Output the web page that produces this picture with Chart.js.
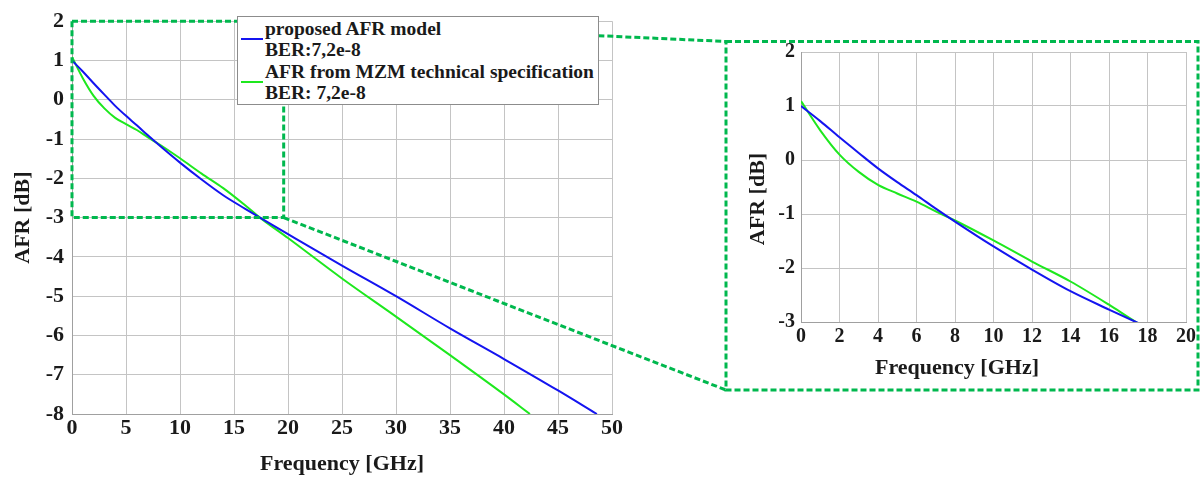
<!DOCTYPE html>
<html>
<head>
<meta charset="utf-8">
<script src="https://cdn.jsdelivr.net/npm/chart.js@4.4.1/dist/chart.umd.min.js"></script>
<style>
    body { margin: 0; background: #fff; }
    #wrap { position: relative; width: 1201px; height: 479px; overflow: hidden; }
    #wrap canvas { position: absolute; left: 0; top: 0; }
    #legend {
        position: absolute; left: 237px; top: 16px; width: 360px; height: 86px;
        border: 1px solid #8c8c8c; background: #fff; box-sizing: content-box;
        font: bold 19.5px 'Liberation Serif', 'Times New Roman', serif; color: #1a1a1a;
        line-height: 21.5px; padding-top: 0.5px; white-space: nowrap;
    }
    .item { position: relative; padding-left: 27px; }
    .swatch { position: absolute; left: 3px; top: 20px; width: 22px; height: 2px; }
</style>
</head>
<body>
<div id="wrap">
    <canvas id="mainChart" width="1201" height="479"></canvas>
    <canvas id="zoomChart" width="1201" height="479"></canvas>
    <div id="legend"></div>
</div>
<script>
// proposed AFR model (blue)
const freqBlue = [0, 1, 2, 3, 4, 5, 6, 7, 8, 10, 12, 14, 16, 17.4, 20, 25, 30, 35, 40, 45, 48.6];
const afrBlue = [1.0, 0.72, 0.42, 0.13, -0.155, -0.41, -0.65, -0.9, -1.14, -1.6, -2.03, -2.43, -2.77, -3.0, -3.42, -4.22, -5.0, -5.82, -6.6, -7.4, -8.0];

// AFR from MZM technical specification (green)
const freqGreen = [0, 1, 2, 3, 4, 5, 6, 7, 7.4, 8, 10, 12, 14, 16, 17.4, 20, 25, 30, 35, 40, 42.4];
const afrGreen = [1.09, 0.55, 0.1, -0.22, -0.46, -0.62, -0.77, -0.95, -1.02, -1.12, -1.49, -1.88, -2.25, -2.68, -3.0, -3.52, -4.55, -5.52, -6.5, -7.5, -8.0];

const legendLines = [
    ['proposed AFR model', 'BER:7,2e-8'],
    ['AFR from MZM technical specification', 'BER: 7,2e-8']
];

const mainXTicks = [0, 5, 10, 15, 20, 25, 30, 35, 40, 45, 50];
const mainYTicks = [-8, -7, -6, -5, -4, -3, -2, -1, 0, 1, 2];
const zoomXTicks = [0, 2, 4, 6, 8, 10, 12, 14, 16, 18, 20];
const zoomYTicks = [-3, -2, -1, 0, 1, 2];

// zoomed region on the main chart (data units)
const zoomRange = { x: [0, 19.6], y: [-3, 2] };

const BLUE = '#1414f0';
const GREEN = '#1ee81e';
const DASH_GREEN = '#00b84e';
const TEXT = '#1a1a1a';
const GRID = '#c4c4c4';
const FONT = "'Liberation Serif', 'Times New Roman', serif";

function toPoints(xs, ys) {
    return xs.map((x, i) => ({ x: x, y: ys[i] }));
}

function buildDatasets() {
    return [
        {
            label: legendLines[0].join(' '),
            data: toPoints(freqBlue, afrBlue),
            borderColor: BLUE,
            borderWidth: 2,
            pointRadius: 0,
            cubicInterpolationMode: 'monotone',
            fill: false
        },
        {
            label: legendLines[1].join(' '),
            data: toPoints(freqGreen, afrGreen),
            borderColor: GREEN,
            borderWidth: 2,
            pointRadius: 0,
            cubicInterpolationMode: 'monotone',
            fill: false
        }
    ];
}

function fixedTicks(list) {
    return scale => { scale.ticks = list.map(v => ({ value: v })); };
}

function axis(min, max, tickList, fitFn, tickPadding, fontSize, title) {
    return {
        type: 'linear',
        min: min,
        max: max,
        afterBuildTicks: fixedTicks(tickList),
        afterFit: fitFn,
        grid: { color: GRID, lineWidth: 1, drawTicks: false },
        border: { color: '#a0a0a0', width: 1 },
        ticks: {
            padding: tickPadding,
            color: TEXT,
            font: { family: FONT, size: fontSize, weight: 'bold' }
        },
        title: title
    };
}

// dashed zoom box, inset frame and connecting lines
const zoomLinks = {
    id: 'zoomLinks',
    afterDraw(chart) {
        const { ctx, scales: { x, y } } = chart;
        const x0 = x.getPixelForValue(zoomRange.x[0]);
        const x1 = x.getPixelForValue(zoomRange.x[1]);
        const y0 = y.getPixelForValue(zoomRange.y[1]);
        const y1 = y.getPixelForValue(zoomRange.y[0]);
        const box = { left: 726, top: 41.5, right: 1198, bottom: 390 };

        ctx.save();
        ctx.strokeStyle = DASH_GREEN;
        ctx.lineWidth = 3;
        ctx.setLineDash([6, 3]);
        ctx.strokeRect(x0, y0, x1 - x0, y1 - y0);
        ctx.strokeRect(box.left, box.top, box.right - box.left, box.bottom - box.top);
        ctx.beginPath();
        ctx.moveTo(x1, y0);
        ctx.lineTo(box.left, box.top);
        ctx.moveTo(x1, y1);
        ctx.lineTo(box.left, box.bottom);
        ctx.stroke();
        ctx.restore();
    }
};

// inset axis titles sit off-centre in the original, so place them by hand
const insetTitles = {
    id: 'insetTitles',
    afterDraw(chart) {
        const ctx = chart.ctx;
        ctx.save();
        ctx.fillStyle = TEXT;
        ctx.font = "bold 22px " + FONT;
        ctx.textAlign = 'center';
        ctx.textBaseline = 'middle';
        ctx.fillText('Frequency [GHz]', 957, 368);
        ctx.translate(758, 199);
        ctx.rotate(-Math.PI / 2);
        ctx.fillText('AFR [dB]', 0, 0);
        ctx.restore();
    }
};

function setupMainChart() {
    const ctx = document.getElementById('mainChart').getContext('2d');
    return new Chart(ctx, {
        type: 'line',
        data: { datasets: buildDatasets() },
        options: {
            responsive: false,
            animation: false,
            layout: { padding: { left: 0, top: 14, right: 589, bottom: 0 } },
            plugins: { legend: { display: false }, tooltip: { enabled: false } },
            scales: {
                x: axis(0, 50, mainXTicks, s => { s.height = 65; }, 1.5, 22, {
                    display: true, text: 'Frequency [GHz]', color: TEXT,
                    font: { family: FONT, size: 22, weight: 'bold' },
                    padding: { top: 0, bottom: 1 }
                }),
                y: axis(-8, 2, mainYTicks, s => { s.width = 72; }, 8, 22, {
                    display: true, text: 'AFR [dB]', color: TEXT,
                    font: { family: FONT, size: 22, weight: 'bold' },
                    padding: { top: 10, bottom: 0 }
                })
            }
        },
        plugins: [zoomLinks]
    });
}

function setupZoomChart() {
    const ctx = document.getElementById('zoomChart').getContext('2d');
    return new Chart(ctx, {
        type: 'line',
        data: { datasets: buildDatasets() },
        options: {
            responsive: false,
            animation: false,
            layout: { padding: { left: 740, top: 52, right: 15, bottom: 89 } },
            plugins: { legend: { display: false }, tooltip: { enabled: false } },
            scales: {
                x: axis(0, 20, zoomXTicks, s => { s.height = 68; }, 3, 20, { display: false }),
                y: axis(-3, 2, zoomYTicks, s => { s.width = 61; }, 6, 20, { display: false })
            }
        },
        plugins: [insetTitles]
    });
}

function buildLegend(chart) {
    const legend = document.getElementById('legend');
    chart.data.datasets.forEach((ds, i) => {
        const item = document.createElement('div');
        item.className = 'item';
        const swatch = document.createElement('span');
        swatch.className = 'swatch';
        swatch.style.background = ds.borderColor;
        item.appendChild(swatch);
        legendLines[i].forEach(line => {
            const row = document.createElement('div');
            row.textContent = line;
            item.appendChild(row);
        });
        legend.appendChild(item);
    });
}

const mainChart = setupMainChart();
setupZoomChart();
buildLegend(mainChart);
</script>
</body>
</html>
